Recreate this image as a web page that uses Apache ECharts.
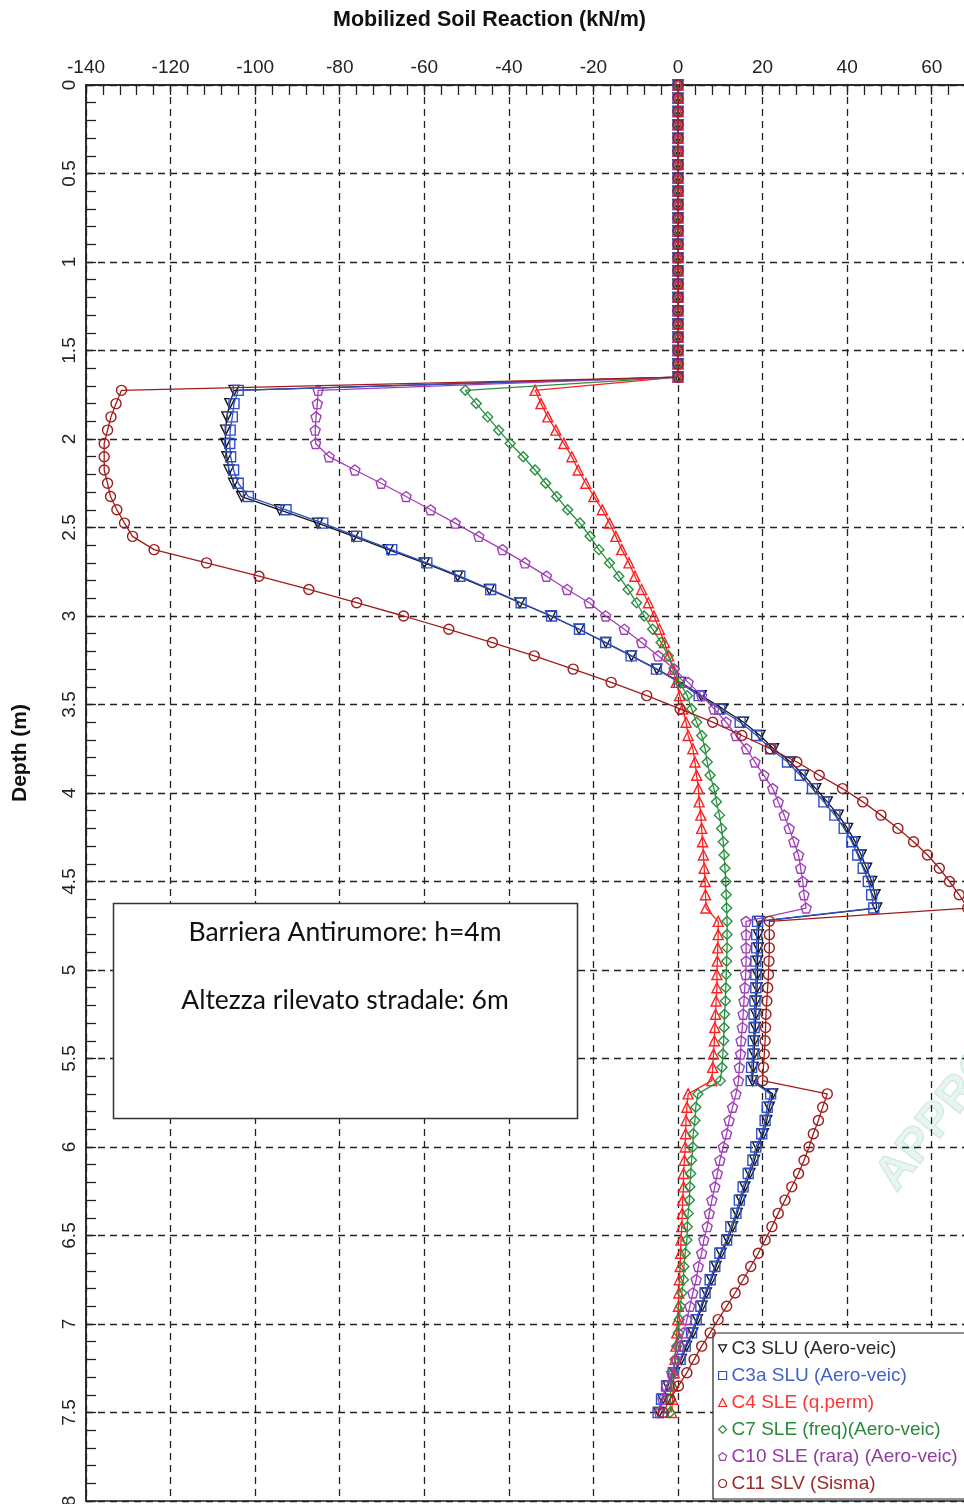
<!DOCTYPE html>
<html>
<head>
<meta charset="utf-8">
<script src="https://cdn.jsdelivr.net/npm/echarts@6/dist/echarts.min.js"></script>
<style>
html,body{margin:0;padding:0;background:#fff;}
#chart{width:964px;height:1504px;}
</style>
</head>
<body>
<div id="chart"></div>
<script>
// Depth of each node (m)
const depth = [0,0.075,0.15,0.225,0.3,0.375,0.45,0.525,0.6,0.675,0.75,0.825,0.9,0.975,1.05,1.125,1.2,1.275,1.35,1.425,1.5,
1.575,1.65,1.725,1.8,1.875,1.95,2.025,2.1,2.175,2.25,2.325,2.4,2.475,2.55,2.625,2.7,2.775,2.85,2.925,3,
3.075,3.15,3.225,3.3,3.375,3.45,3.525,3.6,3.675,3.75,3.825,3.9,3.975,4.05,4.125,4.2,4.275,4.35,4.425,4.5,
4.575,4.65,4.725,4.8,4.875,4.95,5.025,5.1,5.175,5.25,5.325,5.4,5.475,5.55,5.625,5.7,5.775,5.85,5.925,6,
6.075,6.15,6.225,6.3,6.375,6.45,6.525,6.6,6.675,6.75,6.825,6.9,6.975,7.05,7.125,7.2,7.275,7.35,7.425,7.5];

// Mobilized soil reaction (kN/m) for each case
const c3 = [
0,0,0,0,0,0,0,0,0,0,
0,0,0,0,0,0,0,0,0,0,
0,0,0,-105.0,-106.0,-106.7,-107.0,-107.0,-106.7,-106.2,
-105.1,-103.2,-94.2,-85.2,-76.7,-68.5,-60.0,-52.1,-44.6,-37.4,
-30.1,-23.4,-17.1,-11.0,-5.0,0.6,5.5,10.6,15.5,19.4,
22.6,26.6,29.7,32.6,35.3,37.9,40.1,41.9,43.3,44.6,
45.8,46.6,47.0,19.2,19.0,19.0,18.8,18.8,18.7,18.5,
18.4,18.3,18.1,18.0,17.8,17.6,22.4,21.6,21.0,20.2,
18.8,18.1,17.0,15.8,14.9,14.0,12.9,11.8,10.2,9.0,
7.9,6.7,5.7,4.6,3.5,2.0,0.8,-0.8,-2.4,-3.6,
-4.5];
const c3a = [
0,0,0,0,0,0,0,0,0,0,
0,0,0,0,0,0,0,0,0,0,
0,0,0,-104.0,-105.0,-105.4,-105.9,-106.0,-105.8,-105.1,
-104.0,-101.6,-92.7,-84.0,-76.0,-67.7,-59.4,-51.6,-44.3,-37.1,
-29.9,-23.3,-17.1,-11.1,-5.1,0.3,5.0,9.9,14.7,18.6,
21.9,25.9,28.9,31.8,34.5,37.1,39.3,41.1,42.5,43.8,
45.0,45.8,46.3,18.8,18.6,18.6,18.4,18.4,18.4,18.2,
18.0,18.0,17.8,17.7,17.4,17.3,21.9,21.1,20.6,19.8,
18.4,17.7,16.6,15.4,14.5,13.7,12.5,11.5,9.9,8.7,
7.6,6.4,5.4,4.3,3.2,1.7,0.5,-1.1,-2.7,-3.9,
-4.7];
const c4 = [
0,0,0,0,0,0,0,0,0,0,
0,0,0,0,0,0,0,0,0,0,
0,0,0,-33.8,-32.4,-30.8,-28.9,-27.0,-25.1,-23.6,
-21.8,-19.9,-17.9,-16.2,-14.7,-13.3,-11.6,-10.2,-8.6,-7.0,
-5.7,-4.4,-3.2,-2.2,-1.2,-0.4,0.4,1.1,1.9,2.4,
3.5,4.0,4.4,4.8,5.0,5.4,5.6,5.8,6.0,6.2,
6.4,6.5,6.6,9.5,9.5,9.4,9.3,9.2,9.2,9.0,
8.9,8.7,8.6,8.4,8.2,8.0,2.4,2.1,1.9,1.8,
1.7,1.5,1.3,1.3,1.1,1.0,0.9,0.7,0.6,0.5,
0.3,0.2,0.1,-0.1,-0.3,-0.5,-0.7,-0.9,-1.1,-1.3,
-1.5];
const c7 = [
0,0,0,0,0,0,0,0,0,0,
0,0,0,0,0,0,0,0,0,0,
0,0,0,-50.3,-47.7,-45.0,-42.4,-39.7,-36.6,-33.8,
-31.3,-28.7,-26.1,-23.2,-20.8,-18.7,-16.2,-14.0,-11.8,-9.8,
-8.0,-6.0,-4.0,-2.3,-0.9,0.3,2.2,3.2,4.4,5.6,
6.4,6.9,7.6,8.5,9.1,9.8,10.3,10.7,10.9,11.1,
11.3,11.4,11.5,11.6,11.6,11.6,11.5,11.4,11.3,11.2,
11.0,10.9,10.8,10.6,10.4,10.0,4.7,4.2,4.0,3.6,
3.5,3.2,3.0,2.8,2.7,2.4,2.2,2.1,1.7,1.4,
1.3,0.9,0.6,0.3,0.1,-0.3,-0.7,-1.1,-1.7,-1.8,
-1.9];
const c10 = [
0,0,0,0,0,0,0,0,0,0,
0,0,0,0,0,0,0,0,0,0,
0,0,0,-85.1,-85.3,-85.6,-85.8,-85.7,-82.5,-76.4,
-70.2,-64.3,-58.5,-52.7,-47.1,-41.5,-36.2,-31.1,-26.2,-21.0,
-17.1,-12.7,-8.6,-4.7,-0.9,2.4,5.6,8.5,11.4,13.7,
16.2,18.2,20.3,22.4,23.7,25.1,26.3,27.4,28.5,29.0,
29.5,29.8,30.3,16.1,16.1,16.1,16.1,16.0,15.8,15.6,
15.4,15.2,14.9,14.8,14.5,14.3,13.7,12.9,12.1,11.5,
10.7,9.9,9.3,8.7,8.0,7.4,6.9,6.1,5.6,4.8,
4.3,3.5,2.8,2.1,1.3,0.3,-0.5,-1.5,-2.7,-3.6,
-4.4];
const c11 = [
0,0,0,0,0,0,0,0,0,0,
0,0,0,0,0,0,0,0,0,0,
0,0,0,-131.6,-132.9,-134.1,-134.9,-135.7,-135.7,-135.7,
-134.9,-134.2,-132.7,-130.9,-129.0,-123.9,-111.5,-99.1,-87.3,-76.0,
-64.9,-54.2,-43.9,-34.0,-24.8,-15.8,-7.4,0.5,8.2,15.1,
21.8,28.1,33.4,38.9,43.7,48.0,52.0,55.7,59.0,61.8,
64.2,66.5,68.5,21.6,21.6,21.6,21.5,21.4,21.2,21.0,
20.8,20.7,20.6,20.4,20.2,20.0,35.3,34.2,33.2,32.0,
31.0,29.8,28.5,26.9,25.3,23.7,22.2,20.6,19.0,17.2,
15.4,13.5,11.5,9.5,7.6,5.6,3.8,2.1,0.1,-1.9,
-3.5];

const seriesNames = ['C3 SLU (Aero-veic)','C3a SLU (Aero-veic)','C4 SLE (q.perm)','C7 SLE (freq)(Aero-veic)','C10 SLE (rara) (Aero-veic)','C11 SLV (Sisma)'];
const seriesValues = [c3, c3a, c4, c7, c10, c11];
const lineColors = ['#151515','#3050c8','#ff2020','#2a9040','#a040b8','#a01c1c'];
const textColors = ['#2a2a2a','#4262c8','#ff3434','#2a8a3a','#8e3c9e','#9c2a2a'];
const symbols = ['path://M0,0L10,0L5,9Z','rect','triangle','diamond','path://M5,0L10,3.6L8.1,9.5L1.9,9.5L0,3.6Z','circle'];

const chart = echarts.init(document.getElementById('chart'), null, {renderer:'canvas'});
const FONT = '"Liberation Sans", Arial, sans-serif';

const series = seriesNames.map((name, k) => ({
  name: name,
  type: 'line',
  data: depth.map((d, i) => [seriesValues[k][i], d]),
  symbol: symbols[k],
  symbolSize: 10,
  showAllSymbol: true,
  animation: false,
  lineStyle: {color: lineColors[k], width: 1.3},
  itemStyle: {color: 'rgba(255,255,255,0)', borderColor: lineColors[k], borderWidth: 1.4},
  emphasis: {disabled: true},
  z: 3 + k
}));

chart.setOption({
  animation: false,
  backgroundColor: '#ffffff',
  grid: {left: 86, top: 85, width: 930.3, height: 1416, show: true, borderColor: '#222', borderWidth: 1.5,
    backgroundColor: 'transparent', containLabel: false, outerBoundsMode: 'none'},
  xAxis: {
    type: 'value', position: 'top', min: -140, max: 80, interval: 20,
    axisLine: {show: true, onZero: false, lineStyle: {color: '#222', width: 1.5}},
    axisTick: {show: true, inside: true, length: 10, lineStyle: {color: '#222', width: 1.3}},
    minorTick: {show: true, splitNumber: 5, length: 10, lineStyle: {color: '#222', width: 1.3}},
    axisLabel: {fontFamily: FONT, fontSize: 19, color: '#222', margin: 8,
      formatter: v => (v === 80 ? '' : String(v))},
    splitLine: {show: true, lineStyle: {color: '#222', width: 1.3, type: [7, 5]}}
  },
  yAxis: {
    type: 'value', inverse: true, min: 0, max: 8, interval: 0.5,
    axisLine: {show: true, onZero: false, lineStyle: {color: '#222', width: 1.5}},
    axisTick: {show: true, inside: true, length: 10, lineStyle: {color: '#222', width: 1.3}},
    minorTick: {show: true, splitNumber: 5, length: 10, lineStyle: {color: '#222', width: 1.3}},
    axisLabel: {fontFamily: FONT, fontSize: 19, color: '#222', rotate: 90, margin: 7},
    splitLine: {show: true, lineStyle: {color: '#222', width: 1.3, type: [7, 5]}}
  },
  legend: {
    orient: 'vertical', left: 713, top: 1333,
    padding: [6, 40, 6, 5],
    itemWidth: 8, itemHeight: 8, itemGap: 8,
    backgroundColor: '#fff', borderColor: '#222', borderWidth: 1.2, borderRadius: 0,
    itemStyle: {borderWidth: 1.2},
    selectedMode: false,
    textStyle: {fontFamily: FONT, fontSize: 19, lineHeight: 19},
    data: seriesNames.map((n, k) => ({name: n, icon: symbols[k], textStyle: {color: textColors[k]}}))
  },
  graphic: [
    {type: 'text', left: 333, top: 9, style: {text: 'Mobilized Soil Reaction (kN/m)', font: 'bold 21.5px "Liberation Sans", Arial, sans-serif', fill: '#111'}},
    {type: 'text', x: 20, y: 753, rotation: Math.PI / 2, style: {text: 'Depth (m)', font: 'bold 21px "Liberation Sans", Arial, sans-serif', fill: '#111', align: 'center', verticalAlign: 'middle'}},
    {type: 'text', x: 905, y: 1200, rotation: 0.9, z: -10, style: {text: 'APPROVATO', font: 'bold 48px "Liberation Sans", Arial, sans-serif', fill: 'rgba(175,222,200,0.3)', stroke: 'rgba(130,205,170,0.4)', lineWidth: 1, align: 'left', verticalAlign: 'bottom'}},
    {type: 'rect', z: 100, shape: {x: 113.5, y: 903.5, width: 464, height: 215}, style: {fill: '#fff', stroke: '#333', lineWidth: 1.5}},
    {type: 'text', z: 101, x: 345, y: 932, style: {text: 'Barriera Antirumore: h=4m', font: '26.5px Lato, "Open Sans", sans-serif', fill: '#111', align: 'center', verticalAlign: 'middle'}},
    {type: 'text', z: 101, x: 345, y: 1000, style: {text: 'Altezza rilevato stradale: 6m', font: '26.5px Lato, "Open Sans", sans-serif', fill: '#111', align: 'center', verticalAlign: 'middle'}}
  ],
  series: series
});
</script>
</body>
</html>
